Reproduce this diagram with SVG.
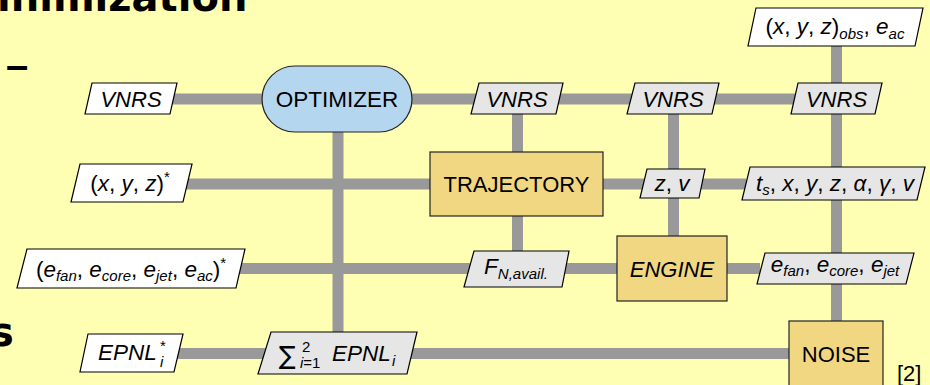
<svg xmlns="http://www.w3.org/2000/svg" width="930" height="385" viewBox="0 0 930 385">
<style>
.bg{fill:#ffffb3}
.conn line{stroke:#999999;stroke-width:11;fill:none}
.inp{fill:#ffffff;stroke:#000000;stroke-width:1.2}
.mid{fill:#e6e6e6;stroke:#000000;stroke-width:1.2}
.proc{fill:#f2d783;stroke:#222222;stroke-width:1.2}
.opt{fill:#b4d7ef;stroke:#222222;stroke-width:1.2}
text{font-family:"Liberation Sans","DejaVu Sans",sans-serif;font-size:22px;fill:#000}
.m{font-size:22.5px}
.i{font-style:italic}
.s{font-size:15px}
.sig{font-family:"DejaVu Sans",sans-serif;font-size:25px}
.title{font-family:"DejaVu Sans",sans-serif;font-weight:bold;font-size:40px}
.dash{font-family:"Liberation Sans",sans-serif;font-weight:bold;font-size:40px}
</style>
<rect class="bg" x="0" y="0" width="930" height="385"/>
<text class="title" x="-3" y="11">inimization</text>
<text class="dash" x="6" y="79">–</text>
<text class="title" x="-10" y="346">s</text>

<g id="connectors" class="conn">
  <line x1="170" y1="99" x2="795" y2="99"/>
  <line x1="180" y1="184" x2="746" y2="184"/>
  <line x1="233" y1="268.5" x2="760" y2="268.5"/>
  <line x1="172" y1="353.5" x2="792" y2="353.5"/>
  <line x1="338" y1="130" x2="338" y2="334"/>
  <line x1="517.5" y1="112" x2="517.5" y2="253"/>
  <line x1="673.5" y1="112" x2="673.5" y2="238"/>
  <line x1="836.5" y1="44" x2="836.5" y2="323"/>
</g>

<g id="vnrs_in">
  <polygon class="inp" points="92,83 177,83 170,114 85,114"/>
  <text class="i" x="131" y="107" text-anchor="middle">VNRS</text>
</g>
<g id="optimizer">
  <rect class="opt" x="262" y="66" width="150" height="66" rx="33" ry="33"/>
  <text class="m" x="337" y="107" text-anchor="middle">OPTIMIZER</text>
</g>
<g id="vnrs2">
  <polygon class="mid" points="479,83 563,83 556,114 471,114"/>
  <text class="i" x="517" y="107" text-anchor="middle">VNRS</text>
</g>
<g id="vnrs3">
  <polygon class="mid" points="635,83 719,83 712,114 627,114"/>
  <text class="i" x="673" y="107" text-anchor="middle">VNRS</text>
</g>
<g id="vnrs4">
  <polygon class="mid" points="798,83 882,83 875,114 791,114"/>
  <text class="i" x="836.5" y="107" text-anchor="middle">VNRS</text>
</g>
<g id="obs">
  <polygon class="inp" points="756,8 923,8 915,46 748,46"/>
  <text class="m" x="835" y="34" text-anchor="middle">(<tspan class="i">x</tspan>, <tspan class="i">y</tspan>, <tspan class="i">z</tspan>)<tspan class="i s" dy="5">obs</tspan><tspan dy="-5">, </tspan><tspan class="i">e</tspan><tspan class="i s" dy="5">ac</tspan></text>
</g>
<g id="xyz_in">
  <polygon class="inp" points="80,164 192,164 183,202 71,202"/>
  <text class="m" x="130" y="191" text-anchor="middle">(<tspan class="i">x</tspan>, <tspan class="i">y</tspan>, <tspan class="i">z</tspan>)<tspan class="s" dy="-9">*</tspan></text>
</g>
<g id="trajectory">
  <rect class="proc" x="430" y="152" width="173" height="64"/>
  <text x="516.5" y="192" text-anchor="middle">TRAJECTORY</text>
</g>
<g id="zv">
  <polygon class="mid" points="647,169 705,169 699,198 640,198"/>
  <text class="m i" x="672" y="191" text-anchor="middle">z<tspan font-style="normal">, </tspan>v</text>
</g>
<g id="ts">
  <polygon class="mid" points="750,167 925,167 917,200 742,200"/>
  <text class="m" x="835" y="191" text-anchor="middle"><tspan class="i">t</tspan><tspan class="i s" dy="4">s</tspan><tspan dy="-4">, </tspan><tspan class="i">x</tspan>, <tspan class="i">y</tspan>, <tspan class="i">z</tspan>, <tspan class="i">α</tspan>, <tspan class="i">γ</tspan>, <tspan class="i">v</tspan></text>
</g>
<g id="e_in">
  <polygon class="inp" points="27,249 245,249 236,288 17,288"/>
  <text class="m" x="131" y="277" text-anchor="middle">(<tspan class="i">e</tspan><tspan class="i s" dy="4">fan</tspan><tspan dy="-4">, </tspan><tspan class="i">e</tspan><tspan class="i s" dy="4">core</tspan><tspan dy="-4">, </tspan><tspan class="i">e</tspan><tspan class="i s" dy="4">jet</tspan><tspan dy="-4">, </tspan><tspan class="i">e</tspan><tspan class="i s" dy="4">ac</tspan><tspan dy="-4">)</tspan><tspan class="s" dy="-9">*</tspan></text>
</g>
<g id="fn">
  <polygon class="mid" points="474,251 569,251 562,287 464,287"/>
  <text class="m i" x="516" y="274" text-anchor="middle">F<tspan class="s" dy="5">N,avail.</tspan></text>
</g>
<g id="engine">
  <rect class="proc" x="617" y="236" width="110" height="65"/>
  <text class="i" x="672" y="277" text-anchor="middle">ENGINE</text>
</g>
<g id="e_out">
  <polygon class="mid" points="765,253 914,253 906,284 757,284"/>
  <text class="m" x="835" y="272" text-anchor="middle"><tspan class="i">e</tspan><tspan class="i s" dy="4">fan</tspan><tspan dy="-4">, </tspan><tspan class="i">e</tspan><tspan class="i s" dy="4">core</tspan><tspan dy="-4">, </tspan><tspan class="i">e</tspan><tspan class="i s" dy="4">jet</tspan></text>
</g>
<g id="epnl_in">
  <polygon class="inp" points="88,334 183,334 174,372 80,372"/>
  <text class="m i" x="98" y="360">EPNL</text>
  <text class="s" x="160" y="351">*</text>
  <text class="i s" x="160" y="367">i</text>
</g>
<g id="sum">
  <polygon class="mid" points="271,332 417,332 407,374 258,374"/>
  <text class="sig" x="279" y="364">∑</text>
  <text class="s" x="302" y="352">2</text>
  <text class="s" x="300" y="368"><tspan class="i">i</tspan>=1</text>
  <text class="m i" x="332" y="361">EPNL</text>
  <text class="i s" x="392" y="366">i</text>
</g>
<g id="noise">
  <rect class="proc" x="789" y="321" width="94" height="80"/>
  <text x="836" y="362" text-anchor="middle">NOISE</text>
</g>
<text x="897" y="381">[2]</text>
</svg>
